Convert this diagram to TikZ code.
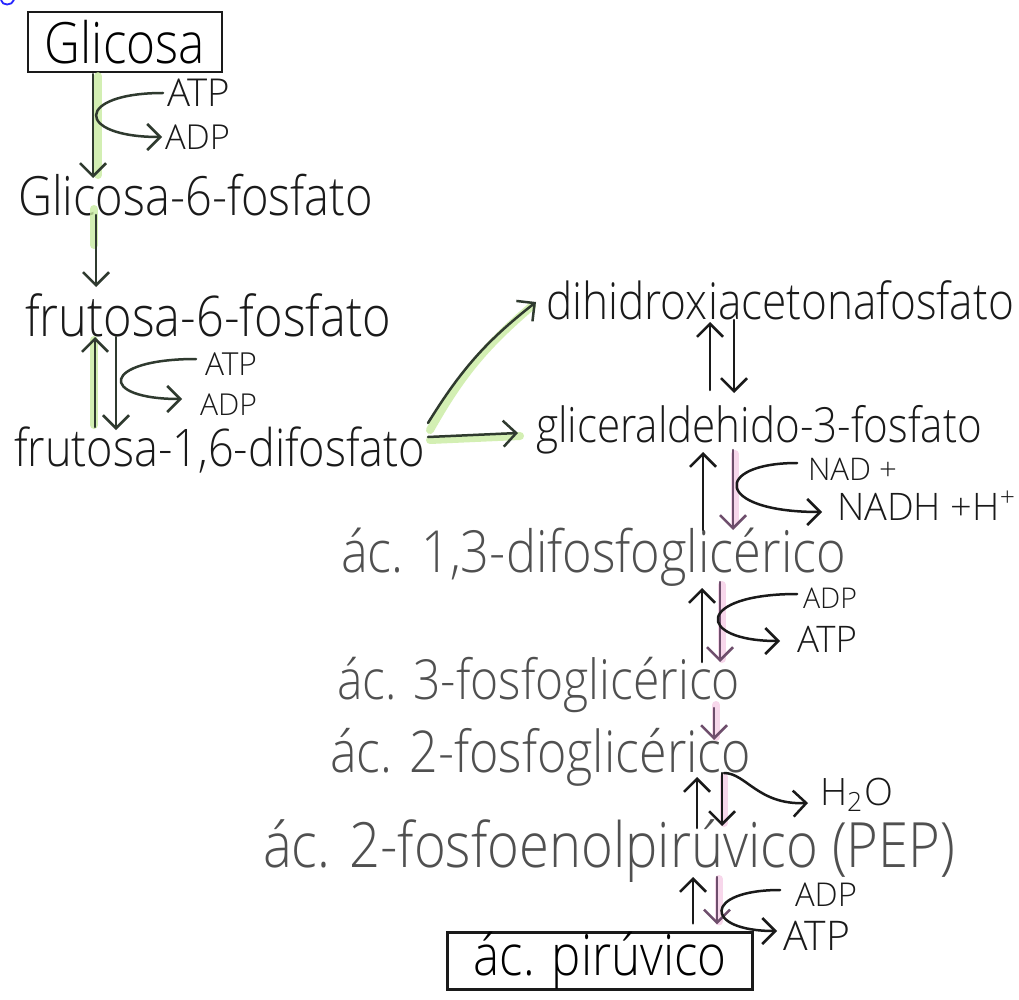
\documentclass[tikz,border=0pt]{standalone}
\usepackage{fontspec}
\setmainfont{Open Sans Light}
\usetikzlibrary{arrows.meta,calc}
\definecolor{ink}{HTML}{1A1A1A}
\definecolor{pencil}{HTML}{505050}
\definecolor{pen}{HTML}{2F3A2F}
\definecolor{purp}{HTML}{6E4E6C}
\definecolor{hlgreen}{HTML}{C9EBA0}
\definecolor{hlpink}{HTML}{F6CDE6}
\newcommand\hw[2]{\resizebox{#1pt}{!}{\scalebox{1}[1.15]{#2}}}
\newcommand\lb[2]{\resizebox{#1pt}{!}{#2}}
\tikzset{
  txt/.style={inner sep=0pt, outer sep=0pt, anchor=west, text=ink},
  pale/.style={txt, text=pencil},
  boxnode/.style={draw=ink, line width=2.2pt, inner sep=0pt, rectangle},
  arr/.style={draw=pen, line width=2.5pt, line cap=round, -{Straight Barb[length=13pt,width=26pt,line width=2.5pt]}},
  parr/.style={arr, draw=purp},
  hlg/.style={draw=hlgreen, line width=8pt, line cap=round, opacity=0.8},
  hlp/.style={draw=hlpink, line width=8pt, line cap=round, opacity=0.8},
}
\begin{document}
\begin{tikzpicture}[x=1pt, y=-1pt]
\fill[white] (0,0) rectangle (1019,1000);
\useasboundingbox (0,0) rectangle (1019,1000);
% partial blue mark at corner
\draw[blue!85, line width=1.8pt] (1,0) .. controls (2,6) and (12,6) .. (14,0);

% nodes
\node[boxnode, minimum width=194pt, minimum height=60pt] (glc) at (125,42) {\raisebox{-6pt}{\hw{160}{Glicosa}}};
\node[txt] (g6p) at (18,195) {\hw{355}{Glicosa-6-fosfato}};
\node[txt] (f6p) at (25,315) {\hw{366}{frutosa-6-fosfato}};
\node[txt] (f16) at (14,450) {\hw{411}{frutosa-1,6-difosfato}};
\node[txt] (dhap) at (546,300) {\hw{468}{dihidroxiacetonafosfato}};
\node[txt] (ga3p) at (536,430) {\hw{446}{gliceraldehido-3-fosfato}};
\node[pale] (bpg) at (341,557) {\hw{505}{ác. 1,3-difosfoglicérico}};
\node[pale] (pg3) at (337,685) {\hw{403}{ác. 3-fosfoglicérico}};
\node[pale] (pg2) at (330,757) {\hw{421}{ác. 2-fosfoglicérico}};
\node[pale] (pep) at (263,851) {\hw{692}{ác. 2-fosfoenolpirúvico (PEP)}};
\node[boxnode, minimum width=305pt, minimum height=53pt] (pyr) at (600,961) {\hw{253}{ác. pirúvico}};

\node[txt] (atp1) at (167,93) {\lb{63}{ATP}};
\node[txt] (adp1) at (165,137) {\lb{65}{ADP}};
\node[txt] (atp2) at (205,364) {\lb{52}{ATP}};
\node[txt] (adp2) at (200,405) {\lb{57}{ADP}};
\node[txt] (nad) at (808,469) {\lb{89}{NAD +}};
\node[txt] (nadh) at (837,506) {\lb{180}{NADH +H\textsuperscript{+}}};
\node[txt] (adp3) at (803,598) {\lb{54}{ADP}};
\node[txt] (atp3) at (797,639) {\lb{60}{ATP}};
\node[txt] (h2o) at (820,795) {\lb{73}{H\textsubscript{2}O}};
\node[txt] (adp4) at (795,895) {\lb{62}{ADP}};
\node[txt] (atp4) at (783,936) {\lb{67}{ATP}};

% highlights
\draw[hlg] ($(glc.south)+(-27,3)$) -- ($(g6p.west)+(80,-20)$);
\draw[hlg] ($(g6p.west)+(76,14)$) -- ($(g6p.west)+(76,50)$);
\draw[hlg] ($(f16.west)+(80,-25)$) -- ($(f6p.west)+(69,25)$);
\draw[hlg] ($(f16.west)+(416,-20)$) to[bend left=10] ($(dhap.west)+(-14,6)$);
\draw[hlg] ($(f16.west)+(416,-10)$) -- ($(ga3p.west)+(-16,6)$);
\draw[hlp] ($(ga3p.west)+(199,24)$) -- ($(bpg.west)+(394,-34)$);
\draw[hlp] ($(bpg.west)+(381,28)$) -- ($(pg3.west)+(385,-26)$);
\draw[hlp] ($(pg3.west)+(379,20)$) -- ($(pg2.west)+(386,-20)$);
\draw[hlp] ($(pg2.west)+(394,20)$) -- ($(pep.west)+(461,-28)$);
\draw[hlp] ($(pep.west)+(456,28)$) -- ($(pyr.north)+(119,-10)$);

% main arrows
\draw[arr] ($(glc.south)+(-32,1)$) -- ($(g6p.west)+(75,-17)$);
\draw[arr] ($(g6p.west)+(78,20)$) -- ($(f6p.west)+(71,-28)$);
\draw[arr] ($(f16.west)+(81,-23)$) -- ($(f6p.west)+(70,22)$);
\draw[arr] ($(f6p.west)+(91,22)$) -- ($(f16.west)+(102,-20)$);
\draw[arr] ($(f16.west)+(414,-27)$) to[bend left=10] ($(dhap.west)+(-10,2)$);
\draw[arr] ($(f16.west)+(414,-13)$) -- ($(ga3p.west)+(-18,3)$);
\draw[arr, draw=ink] ($(ga3p.west)+(174,-40)$) -- ($(dhap.west)+(164,22)$);
\draw[arr, draw=ink] ($(dhap.west)+(188,20)$) -- ($(ga3p.west)+(198,-37)$);
\draw[arr, draw=ink] ($(bpg.west)+(362,-27)$) -- ($(ga3p.west)+(167,22)$);
\draw[parr] ($(ga3p.west)+(197,20)$) -- ($(bpg.west)+(392,-27)$);
\draw[arr, draw=ink] ($(pg3.west)+(365,-23)$) -- ($(bpg.west)+(361,31)$);
\draw[parr] ($(bpg.west)+(379,25)$) -- ($(pg3.west)+(383,-23)$);
\draw[parr] ($(pg3.west)+(377,23)$) -- ($(pg2.west)+(384,-17)$);
\draw[arr, draw=ink] ($(pep.west)+(434,-23)$) -- ($(pg2.west)+(367,20)$);
\draw[arr, draw=ink] ($(pg2.west)+(392,16)$) -- ($(pep.west)+(459,-25)$);
\draw[arr, draw=ink] ($(pyr.north)+(93,-8)$) -- ($(pep.west)+(430,26)$);
\draw[parr] ($(pep.west)+(454,26)$) -- ($(pyr.north)+(117,-7)$);

% side reactions
\draw[arr] ($(atp1.west)+(-4,0)$) .. controls +(-88,0) and +(-88,0) .. ($(adp1.west)+(-3,0)$);
\draw[arr] ($(atp2.west)+(-9,-5)$) .. controls +(-95,0) and +(-85,0) .. ($(adp2.west)+(-18,-6)$);
\draw[arr, draw=ink] ($(nad.west)+(-11,-6)$) .. controls +(-84,0) and +(-109,0) .. ($(nadh.west)+(-15,6)$);
\draw[arr, draw=ink] ($(adp3.west)+(-6,-4)$) .. controls +(-102,0) and +(-85,0) .. ($(atp3.west)+(-17,2)$);
\draw[arr, draw=ink] ($(pg2.west)+(394,16)$) .. controls +(22,0) and +(-50,2) .. ($(h2o.west)+(-12,8)$);
\draw[arr, draw=ink] ($(adp4.west)+(-15,-5)$) .. controls +(-77,0) and +(-74,0) .. ($(atp4.west)+(-6,-5)$);
\end{tikzpicture}
\end{document}
